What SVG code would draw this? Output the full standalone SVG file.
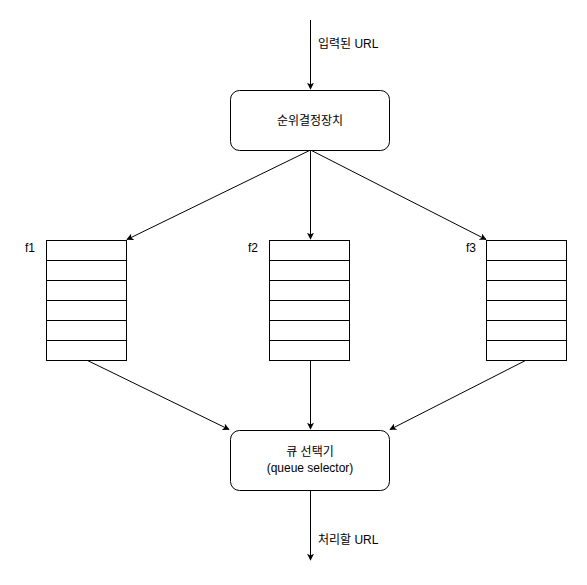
<svg xmlns="http://www.w3.org/2000/svg" width="587" height="585" viewBox="0 0 587 585">
<style>
text{font-family:"Liberation Sans","Noto Sans CJK KR",sans-serif;font-size:12px;fill:#000}
.box{fill:#fff;stroke:#000;stroke-width:1}
.row{fill:#fff;stroke:#000;stroke-width:1}
.c{fill:none;stroke:#000;stroke-width:1;marker-end:url(#ah)}
</style>
<defs>
<marker id="ah" viewBox="0 0 10 10" refX="9" refY="5" markerWidth="7" markerHeight="7" orient="auto" markerUnits="userSpaceOnUse"><path d="M0,0 L10,5 L0,10 L2.5,5 Z" fill="#000"/></marker>
</defs>
<rect width="587" height="585" fill="#fff"/>
<g id="connectors">
<path class="c" d="M310.5,20 L310.5,89"/>
<path class="c" d="M310.5,150 L127,239.5"/>
<path class="c" d="M310.5,150 L310.5,239"/>
<path class="c" d="M310.5,150 L486,239.5"/>
<path class="c" d="M86.5,360 L229,429.5"/>
<path class="c" d="M310.5,360 L310.5,429"/>
<path class="c" d="M526.5,360 L390,429.5"/>
<path class="c" d="M310.5,490 L310.5,560"/>
<text x="318" y="48">입력된 URL</text>
<text x="318" y="544">처리할 URL</text>
</g>
<g id="priority">
<rect class="box" x="230.5" y="90.5" width="159" height="60" rx="9"/>
<text x="310" y="124.5" text-anchor="middle">순위결정장치</text>
</g>
<g id="f1">
<rect class="row" x="46.5" y="240.5" width="80" height="20"/>
<rect class="row" x="46.5" y="260.5" width="80" height="20"/>
<rect class="row" x="46.5" y="280.5" width="80" height="20"/>
<rect class="row" x="46.5" y="300.5" width="80" height="20"/>
<rect class="row" x="46.5" y="320.5" width="80" height="20"/>
<rect class="row" x="46.5" y="340.5" width="80" height="20"/>
<text x="25" y="252">f1</text>
</g>
<g id="f2">
<rect class="row" x="269.5" y="240.5" width="80" height="20"/>
<rect class="row" x="269.5" y="260.5" width="80" height="20"/>
<rect class="row" x="269.5" y="280.5" width="80" height="20"/>
<rect class="row" x="269.5" y="300.5" width="80" height="20"/>
<rect class="row" x="269.5" y="320.5" width="80" height="20"/>
<rect class="row" x="269.5" y="340.5" width="80" height="20"/>
<text x="248" y="252">f2</text>
</g>
<g id="f3">
<rect class="row" x="486.5" y="240.5" width="80" height="20"/>
<rect class="row" x="486.5" y="260.5" width="80" height="20"/>
<rect class="row" x="486.5" y="280.5" width="80" height="20"/>
<rect class="row" x="486.5" y="300.5" width="80" height="20"/>
<rect class="row" x="486.5" y="320.5" width="80" height="20"/>
<rect class="row" x="486.5" y="340.5" width="80" height="20"/>
<text x="466" y="252">f3</text>
</g>
<g id="selector">
<rect class="box" x="230.5" y="430.5" width="159" height="60" rx="9"/>
<text x="310" y="456" text-anchor="middle">큐 선택기</text>
<text x="310" y="472" text-anchor="middle">(queue selector)</text>
</g>
</svg>
